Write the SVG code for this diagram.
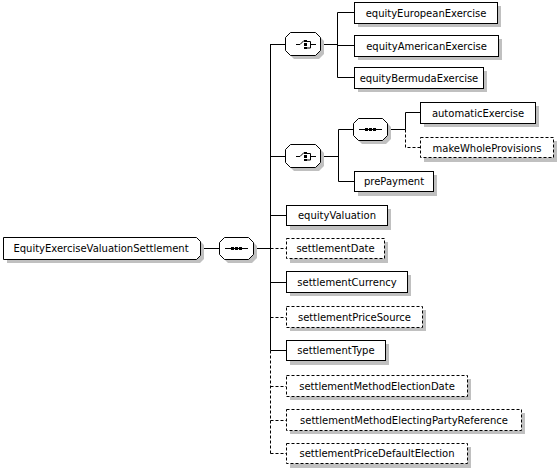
<svg xmlns="http://www.w3.org/2000/svg" width="558" height="469" viewBox="0 0 558 469">
<style>
.sh{fill:#c0c0c0;stroke:none}
.bx{fill:#fff;stroke:#000;stroke-width:1}
.opt{stroke-dasharray:3,2}
.ln{fill:none;stroke:#000;stroke-width:1}
.t{font-family:"DejaVu Sans",Verdana,sans-serif;font-size:10px;fill:#000;text-anchor:middle}
.ic{fill:#000;stroke:none}
</style>
<rect width="558" height="469" fill="#fff"/>
<g id="connectors">
  <path class="ln" d="M200,248.5H219 M253,248.5H270.5"/>
  <path class="ln" d="M270.5,44V350.5"/>
  <path class="ln opt" d="M270.5,350.5V453.5"/>
  <path class="ln" d="M270.5,44.5H286 M270.5,156.5H286 M270.5,215.5H286 M270.5,282.5H286 M270.5,350.5H286"/>
  <path class="ln opt" d="M270.5,248.5H286 M270.5,317.5H286 M270.5,386.5H286 M270.5,420.5H286 M270.5,453.5H286"/>
  <path class="ln" d="M320,44.5H337.5 M337.5,12.5V77.5 M337.5,12.5H354 M337.5,45.5H354 M337.5,77.5H354"/>
  <path class="ln" d="M320,156.5H338.5 M338.5,129.5V181.5 M338.5,129.5H353 M338.5,181.5H354"/>
  <path class="ln" d="M387,129.5H405.5 M405.5,112.5V129.5 M405.5,112.5H420"/>
  <path class="ln opt" d="M405.5,129.5V147.5H420"/>
</g>
<g id="root">
  <path class="sh" d="M7,241H200l4,4V259l-4,4H7z"/>
  <path class="bx" d="M3.5,237.5H196.5l4,4V255.5l-4,4H3.5z"/>
  <text class="t" x="101" y="252">EquityExerciseValuationSettlement</text>
</g>
<g id="seq1">
  <path class="sh" d="M228,241h24l5,5v12l-5,5h-24l-5,-5v-12z"/>
  <path class="bx" d="M224.5,237.5h24l5,5v12l-5,5h-24l-5,-5v-12z"/>
  <path class="ln" d="M225,248.5H248"/>
  <rect class="ic" x="231" y="247" width="3" height="3"/>
  <rect class="ic" x="235" y="247" width="3" height="3"/>
  <rect class="ic" x="239" y="247" width="3" height="3"/>
</g>
<g id="choice1">
  <path class="sh" d="M294,36h25l5,5v13l-5,5h-25l-5,-5v-13z"/>
  <path class="bx" d="M290.5,32.5h25l5,5v13l-5,5h-25l-5,-5v-13z"/>
  <path class="ln" d="M296,44.5h4l4,-4"/>
  <rect class="ic" x="304" y="40" width="3" height="2"/>
  <rect class="ic" x="304" y="43" width="3" height="3"/>
  <rect class="ic" x="304" y="47" width="3" height="2"/>
  <path class="ln" d="M307,41.5h3.5v6.5H307 M310.5,44.5H316"/>
</g>
<g id="choice2">
  <path class="sh" d="M294,148h25l5,5v13l-5,5h-25l-5,-5v-13z"/>
  <path class="bx" d="M290.5,144.5h25l5,5v13l-5,5h-25l-5,-5v-13z"/>
  <path class="ln" d="M296,156.5h4l4,-4"/>
  <rect class="ic" x="304" y="152" width="3" height="2"/>
  <rect class="ic" x="304" y="155" width="3" height="3"/>
  <rect class="ic" x="304" y="159" width="3" height="2"/>
  <path class="ln" d="M307,153.5h3.5v6.5H307 M310.5,156.5H316"/>
</g>
<g id="seq2">
  <path class="sh" d="M362,122h24l5,5v12l-5,5h-24l-5,-5v-12z"/>
  <path class="bx" d="M358.5,118.5h24l5,5v12l-5,5h-24l-5,-5v-12z"/>
  <path class="ln" d="M359,129.5H382"/>
  <rect class="ic" x="365" y="128" width="3" height="3"/>
  <rect class="ic" x="369" y="128" width="3" height="3"/>
  <rect class="ic" x="373" y="128" width="3" height="3"/>
</g>
<g id="equityEuropeanExercise">
  <rect class="sh" x="358" y="6" width="143" height="21"/>
  <rect class="bx" x="354.5" y="2.5" width="143" height="21"/>
  <text class="t" x="426" y="17">equityEuropeanExercise</text>
</g>
<g id="equityAmericanExercise">
  <rect class="sh" x="358" y="39" width="144" height="21"/>
  <rect class="bx" x="354.5" y="35.5" width="144" height="21"/>
  <text class="t" x="426.5" y="50">equityAmericanExercise</text>
</g>
<g id="equityBermudaExercise">
  <rect class="sh" x="358" y="71" width="129" height="21"/>
  <rect class="bx" x="354.5" y="67.5" width="129" height="21"/>
  <text class="t" x="419" y="82">equityBermudaExercise</text>
</g>
<g id="automaticExercise">
  <rect class="sh" x="424" y="106" width="115" height="21"/>
  <rect class="bx" x="420.5" y="102.5" width="115" height="21"/>
  <text class="t" x="478" y="117">automaticExercise</text>
</g>
<g id="makeWholeProvisions">
  <rect class="sh" x="424" y="141" width="133" height="21"/>
  <rect class="bx opt" x="420.5" y="137.5" width="133" height="20"/>
  <text class="t" x="487" y="152">makeWholeProvisions</text>
</g>
<g id="prePayment">
  <rect class="sh" x="358" y="175" width="79" height="21"/>
  <rect class="bx" x="354.5" y="171.5" width="79" height="20"/>
  <text class="t" x="394" y="185">prePayment</text>
</g>
<g id="equityValuation">
  <rect class="sh" x="290" y="209" width="101" height="21"/>
  <rect class="bx" x="286.5" y="205.5" width="101" height="20"/>
  <text class="t" x="337" y="219">equityValuation</text>
</g>
<g id="settlementDate">
  <rect class="sh" x="290" y="242" width="98" height="21"/>
  <rect class="bx opt" x="286.5" y="238.5" width="98" height="20"/>
  <text class="t" x="335.5" y="252">settlementDate</text>
</g>
<g id="settlementCurrency">
  <rect class="sh" x="290" y="275" width="121" height="21"/>
  <rect class="bx" x="286.5" y="271.5" width="121" height="21"/>
  <text class="t" x="347" y="286">settlementCurrency</text>
</g>
<g id="settlementPriceSource">
  <rect class="sh" x="290" y="310" width="136" height="21"/>
  <rect class="bx opt" x="286.5" y="306.5" width="136" height="21"/>
  <text class="t" x="354.5" y="321">settlementPriceSource</text>
</g>
<g id="settlementType">
  <rect class="sh" x="290" y="344" width="99" height="21"/>
  <rect class="bx" x="286.5" y="340.5" width="99" height="20"/>
  <text class="t" x="336" y="354">settlementType</text>
</g>
<g id="settlementMethodElectionDate">
  <rect class="sh" x="290" y="379" width="181" height="21"/>
  <rect class="bx opt" x="286.5" y="375.5" width="181" height="21"/>
  <text class="t" x="377" y="390">settlementMethodElectionDate</text>
</g>
<g id="settlementMethodElectingPartyReference">
  <rect class="sh" x="290" y="413" width="235" height="21"/>
  <rect class="bx opt" x="286.5" y="409.5" width="235" height="21"/>
  <text class="t" x="404" y="424">settlementMethodElectingPartyReference</text>
</g>
<g id="settlementPriceDefaultElection">
  <rect class="sh" x="290" y="447" width="181" height="21"/>
  <rect class="bx opt" x="286.5" y="443.5" width="181" height="20"/>
  <text class="t" x="377" y="457">settlementPriceDefaultElection</text>
</g>
</svg>
